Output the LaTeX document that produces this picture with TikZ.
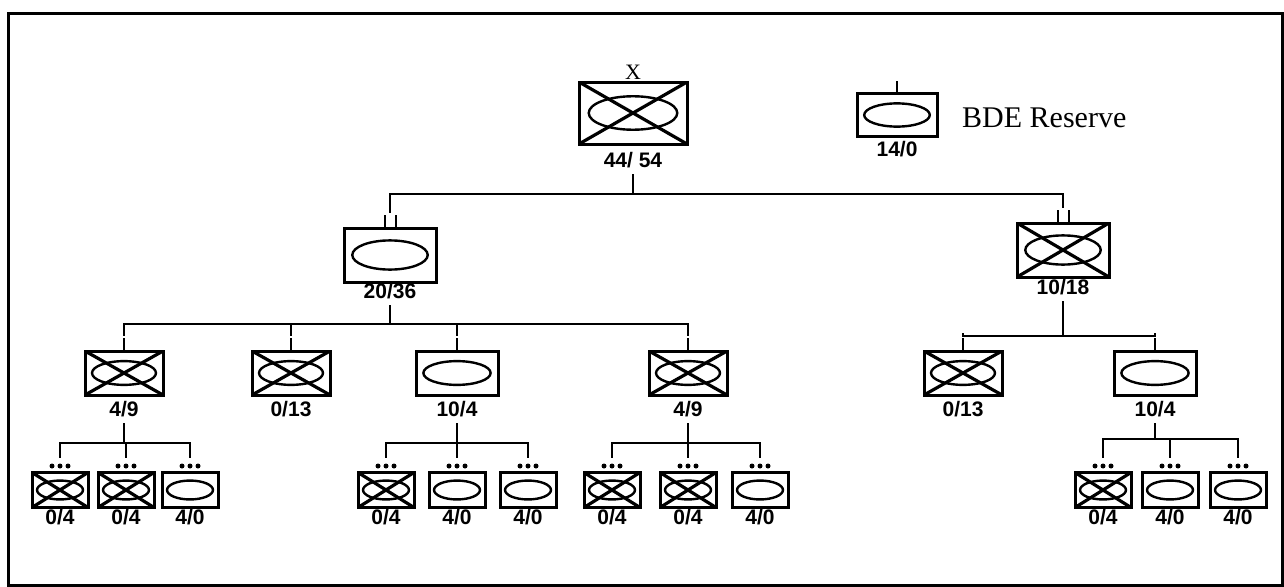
\documentclass[tikz,border=0pt]{standalone}
\usepackage{fontspec}
\setmainfont{Liberation Serif}
\newfontfamily\lblfont{Liberation Sans}
\usetikzlibrary{calc,positioning}
\tikzset{
  inf/.style 2 args={draw, line width=3pt, inner sep=0pt, minimum width=#1pt, minimum height=#2pt,
    path picture={\draw[line width=2.4pt] let \p1=($(path picture bounding box.north east)-(path picture bounding box.south west)$) in
      (path picture bounding box.center) ellipse [x radius=0.41*\x1, y radius=0.27*\y1];}},
  mech/.style 2 args={inf={#1}{#2},
    path picture={\draw[line width=2.4pt] let \p1=($(path picture bounding box.north east)-(path picture bounding box.south west)$) in
      (path picture bounding box.center) ellipse [x radius=0.41*\x1, y radius=0.27*\y1];
      \draw[line width=3.2pt] (path picture bounding box.north west) -- (path picture bounding box.south east)
      (path picture bounding box.south west) -- (path picture bounding box.north east);}},
  lbl/.style={font=\lblfont\bfseries\fontsize{21}{21}\selectfont, inner sep=0pt},
  link/.style={line width=2.4pt, line cap=rect}
}
\begin{document}
\begin{tikzpicture}[x=1pt, y=-1pt]
\useasboundingbox (0,0) rectangle (1284,586);
\draw[line width=3pt] (8,14) rectangle (1282,585);
% brigade and reserve
\node[mech={108}{62}] (bde) at (633,113) {};
\node[font=\fontsize{22}{22}\selectfont, inner sep=0pt] (bde-x) at (633,72) {X};
\node[lbl] (bde-l) at (633,160) {44/ 54};
\node[inf={80}{43}] (res) at (897,115) {};
\node[lbl] (res-l) at (897,149) {14/0};
\node[font=\fontsize{30}{30}\selectfont, inner sep=0pt, anchor=west] (res-t) at (962,118) {BDE Reserve};
\draw[link] (res.north) -- ++(0,-10);
% battalions
\node[inf={92}{54}] (bn1) at (390,255) {};
\node[lbl] (bn1-l) at (390,291) {20/36};
\node[mech={92}{54}] (bn2) at (1063,250) {};
\node[lbl] (bn2-l) at (1063,287) {10/18};
% companies
\node[mech={78}{44}] (co1) at (124,373) {};
\node[lbl] (co1-l) at (124,409) {4/9};
\node[mech={78}{44}] (co2) at (291,373) {};
\node[lbl] (co2-l) at (291,409) {0/13};
\node[inf={82}{44}] (co3) at (457,373) {};
\node[lbl] (co3-l) at (457,409) {10/4};
\node[mech={78}{44}] (co4) at (688,373) {};
\node[lbl] (co4-l) at (688,409) {4/9};
\node[mech={78}{44}] (co5) at (963,373) {};
\node[lbl] (co5-l) at (963,409) {0/13};
\node[inf={82}{44}] (co6) at (1155,373) {};
\node[lbl] (co6-l) at (1155,409) {10/4};
% platoons
\node[mech={56}{35}] (p11) at (60,490) {};
\node[mech={56}{35}] (p12) at (126,490) {};
\node[inf={56}{35}] (p13) at (190,490) {};
\node[mech={56}{35}] (p31) at (386,490) {};
\node[inf={56}{35}] (p32) at (457,490) {};
\node[inf={56}{35}] (p33) at (528,490) {};
\node[mech={56}{35}] (p41) at (612,490) {};
\node[mech={56}{35}] (p42) at (688,490) {};
\node[inf={56}{35}] (p43) at (760,490) {};
\node[mech={56}{35}] (p61) at (1103,490) {};
\node[inf={56}{35}] (p62) at (1170,490) {};
\node[inf={56}{35}] (p63) at (1238,490) {};
\foreach \p/\t in {p11/0\slash4, p12/0\slash4, p13/4\slash0, p31/0\slash4, p32/4\slash0, p33/4\slash0,
  p41/0\slash4, p42/0\slash4, p43/4\slash0, p61/0\slash4, p62/4\slash0, p63/4\slash0} {
  \node[lbl] (\p-l) at ([yshift=-27pt]\p.center) {\t};
  \foreach \dx in {-8,0,8} \fill ([xshift=\dx pt, yshift=5pt]\p.north) circle (2.5pt);
}
% connectors
\coordinate (bar1) at (0,194);
\draw[link] (bde-l.south) ++(0,7) -- (bde-l.south |- bar1);
\draw[link] (bn1.north |- bar1) -- (bn2.north |- bar1);
\foreach \b in {bn1,bn2} {
  \draw[link] (\b.north |- bar1) -- ([yshift=15pt]\b.north);
  \draw[link] ([xshift=-5pt]\b.north) -- ++(0,-10) ([xshift=6pt]\b.north) -- ++(0,-10);
}
\coordinate (bar2) at (0,324);
\draw[link] (bn1-l.south) ++(0,7) -- (bn1-l.south |- bar2);
\draw[link] (co1.north |- bar2) -- (co4.north |- bar2);
\coordinate (bar3) at (0,336);
\draw[link] (bn2-l.south) ++(0,7) -- (bn2-l.south |- bar3);
\draw[link] (co5.north |- bar3) -- (co6.north |- bar3);
\foreach \c/\b in {co1/bar2,co2/bar2,co3/bar2,co4/bar2,co5/bar3,co6/bar3} {
  \draw[link] (\c.north |- \b) -- ([yshift=15pt]\c.north);
  \draw[link] (\c.north) -- ++(0,-10);
}
\coordinate (bar4) at (0,443);
\coordinate (bar5) at (0,439);
\foreach \c/\x/\y/\b in {co1/p11/p13/bar4, co3/p31/p33/bar4, co4/p41/p43/bar4, co6/p61/p63/bar5} {
  \draw[link] (\c-l.south) ++(0,7) -- (\c-l.south |- \b);
  \draw[link] (\x.north |- \b) -- (\y.north |- \b);
}
\foreach \p/\b in {p11/bar4,p12/bar4,p13/bar4,p31/bar4,p32/bar4,p33/bar4,p41/bar4,p42/bar4,p43/bar4,p61/bar5,p62/bar5,p63/bar5}
  \draw[link] (\p.north |- \b) -- ([yshift=14pt]\p.north);
\end{tikzpicture}
\end{document}
